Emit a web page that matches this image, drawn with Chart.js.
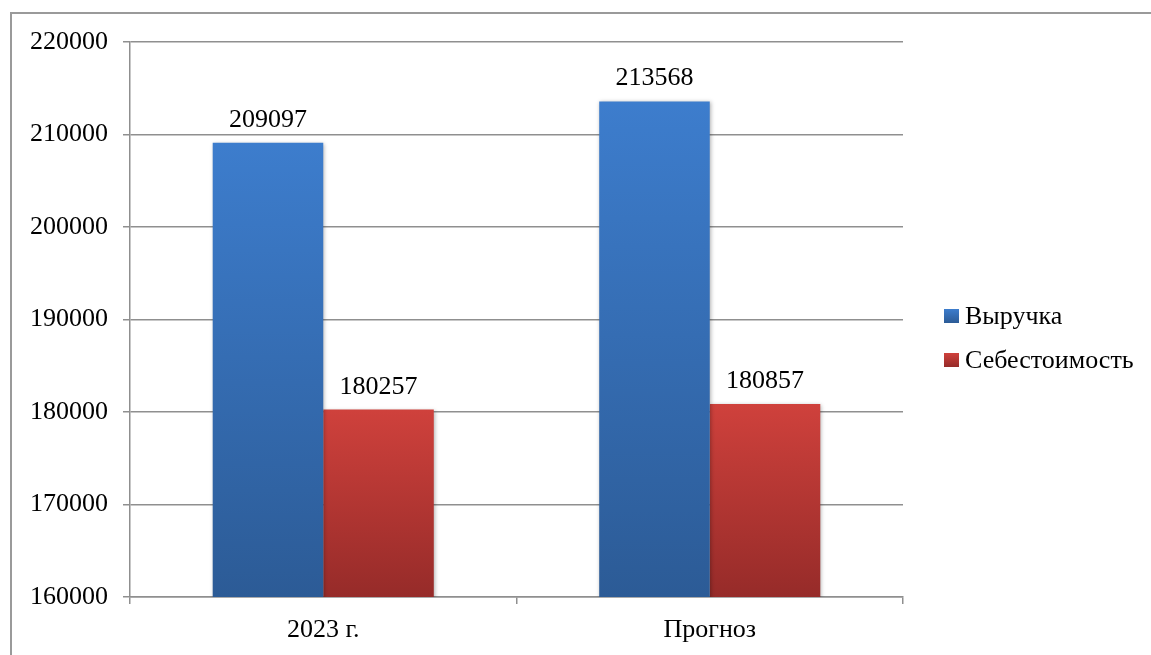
<!DOCTYPE html>
<html lang="ru">
<head>
<meta charset="utf-8">
<script src="https://cdn.jsdelivr.net/npm/chart.js@4.4.1/dist/chart.umd.min.js"></script>
<style>
  html, body { margin: 0; padding: 0; background: #fff; }
  #wrap { position: relative; width: 1151px; height: 655px; }
</style>
</head>
<body>
<div id="wrap"><canvas id="chart"></canvas></div>
<script>
// data
const categories = ["2023 г.", "Прогноз"];
const seriesNames = ["Выручка", "Себестоимость"];
const revenue = [209097, 213568];
const cost = [180257, 180857];
const yMin = 160000;
const yMax = 220000;
const yStep = 10000;

const FONT = "'Liberation Serif', 'Times New Roman', serif";
const GRID = "#8f8f8f";
const COLORS = {
  blueTop: "#3d7dcd",
  blueBottom: "#2c5b96",
  redTop: "#cf413c",
  redBottom: "#962b29",
};

function barGradient(top, bottom) {
  return (ctx) => {
    const chart = ctx.chart;
    const area = chart.chartArea;
    if (!area || ctx.raw == null) return bottom;
    const y = chart.scales.y.getPixelForValue(ctx.raw);
    const g = chart.ctx.createLinearGradient(0, y, 0, area.bottom);
    g.addColorStop(0, top);
    g.addColorStop(1, bottom);
    return g;
  };
}

// frame round the whole chart, like the office export
const framePlugin = {
  id: "frame",
  beforeDraw(chart) {
    const c = chart.ctx;
    c.save();
    c.strokeStyle = "#9a9a9a";
    c.lineWidth = 2;
    c.beginPath();
    c.moveTo(11, chart.height);
    c.lineTo(11, 13);
    c.lineTo(chart.width, 13);
    c.stroke();
    c.restore();
  },
};

// soft shadow under bars + value labels on top
const barExtras = {
  id: "barExtras",
  beforeDatasetsDraw(chart) {
    const c = chart.ctx;
    c.save();
    c.shadowColor = "rgba(0,0,0,0.3)";
    c.shadowBlur = 4;
    c.shadowOffsetX = 1;
    c.shadowOffsetY = 1;
  },
  afterDatasetsDraw(chart) {
    const c = chart.ctx;
    c.restore();
    c.save();
    c.font = "26px " + FONT;
    c.fillStyle = "#000";
    c.textAlign = "center";
    c.textBaseline = "alphabetic";
    chart.data.datasets.forEach((ds, i) => {
      chart.getDatasetMeta(i).data.forEach((bar, j) => {
        c.fillText(String(ds.data[j]), bar.x, bar.y - 16);
      });
    });
    c.restore();
  },
};

// legend on the right, drawn by hand to keep the plot width fixed
const sideLegend = {
  id: "sideLegend",
  afterDraw(chart) {
    const c = chart.ctx;
    const rows = [
      { y: 316, top: COLORS.blueTop, bottom: COLORS.blueBottom },
      { y: 360, top: COLORS.redTop, bottom: COLORS.redBottom },
    ];
    c.save();
    c.font = "26px " + FONT;
    c.fillStyle = "#000";
    c.textBaseline = "middle";
    chart.data.datasets.forEach((ds, i) => {
      const r = rows[i];
      const g = c.createLinearGradient(0, r.y - 7, 0, r.y + 7);
      g.addColorStop(0, r.top);
      g.addColorStop(1, r.bottom);
      c.fillStyle = g;
      c.fillRect(944, r.y - 7, 15, 14);
      c.fillStyle = "#000";
      c.fillText(ds.label, 965, r.y + 1);
    });
    c.restore();
  },
};

new Chart(document.getElementById("chart"), {
  type: "bar",
  data: {
    labels: categories,
    datasets: [
      {
        label: seriesNames[0],
        data: revenue,
        backgroundColor: barGradient(COLORS.blueTop, COLORS.blueBottom),
      },
      {
        label: seriesNames[1],
        data: cost,
        backgroundColor: barGradient(COLORS.redTop, COLORS.redBottom),
      },
    ],
  },
  options: {
    responsive: true,
    maintainAspectRatio: false,
    animation: false,
    events: [],
    categoryPercentage: 0.572,
    barPercentage: 1,
    layout: { padding: { top: 42, right: 248, bottom: 0, left: 0 } },
    plugins: { legend: { display: false }, tooltip: { enabled: false } },
    scales: {
      x: {
        afterFit: (s) => { s.height = 58; },
        grid: {
          drawOnChartArea: false,
          drawTicks: true,
          tickLength: 7,
          color: GRID,
          lineWidth: 1.5,
        },
        border: { color: GRID, width: 1.5 },
        ticks: { color: "#000", font: { family: FONT, size: 26 }, padding: 11 },
      },
      y: {
        min: yMin,
        max: yMax,
        afterFit: (s) => { s.width = 130; },
        grid: { color: GRID, lineWidth: 1.5, tickLength: 7 },
        border: { color: GRID, width: 1.5 },
        ticks: {
          stepSize: yStep,
          color: "#000",
          font: { family: FONT, size: 26 },
          padding: 15,
          callback: (v) => String(v),
        },
      },
    },
  },
  plugins: [framePlugin, barExtras, sideLegend],
});
</script>
</body>
</html>
